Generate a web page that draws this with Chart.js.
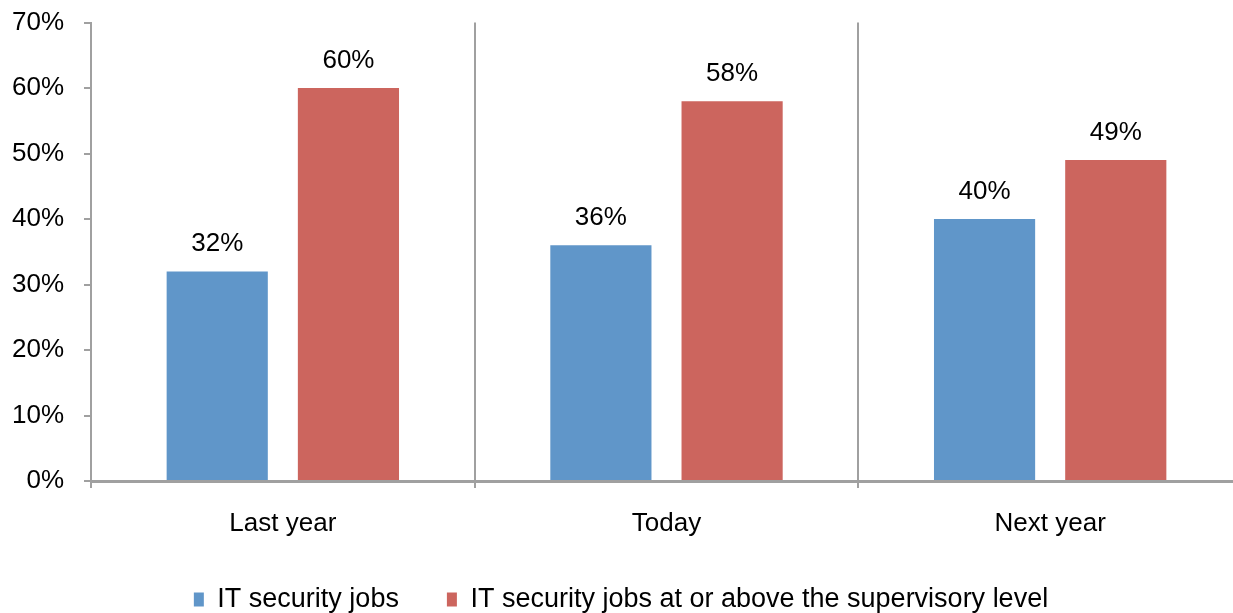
<!DOCTYPE html>
<html>
<head>
<meta charset="utf-8">
<script src="https://cdn.jsdelivr.net/npm/chart.js@4/dist/chart.umd.min.js"></script>
<style>
html,body{margin:0;padding:0;overflow:hidden;background:#fff;}
#wrap{width:1242px;height:613px;position:relative;}
</style>
</head>
<body>
<div id="wrap"><canvas id="c"></canvas></div>
<script>
const categories = ["Last year", "Today", "Next year"];
const itSecurityJobs = [32, 36, 40];
const supervisoryJobs = [60, 58, 49];
const seriesNames = ["IT security jobs", "IT security jobs at or above the supervisory level"];
const yTicks = [0, 10, 20, 30, 40, 50, 60, 70];

const FONT = "'Liberation Sans', Arial, sans-serif";
const GRID = "#a0a0a0";

const labelPlugin = {
  id: 'barLabels',
  afterDatasetsDraw(chart) {
    const ctx = chart.ctx;
    ctx.save();
    ctx.font = "26px " + FONT;
    ctx.fillStyle = "#000";
    ctx.textAlign = "center";
    ctx.textBaseline = "alphabetic";
    chart.data.datasets.forEach((ds, di) => {
      const meta = chart.getDatasetMeta(di);
      meta.data.forEach((bar, i) => {
        ctx.fillText(ds.data[i] + "%", bar.x, bar.y - 20);
      });
    });
    ctx.restore();
  }
};

new Chart(document.getElementById('c'), {
  type: 'bar',
  data: {
    labels: categories,
    datasets: [
      { label: seriesNames[0], data: itSecurityJobs, backgroundColor: "#6096c9",
        categoryPercentage: 0.684, barPercentage: 0.771 },
      { label: seriesNames[1], data: supervisoryJobs, backgroundColor: "#cc655e",
        categoryPercentage: 0.684, barPercentage: 0.771 }
    ]
  },
  options: {
    responsive: true,
    maintainAspectRatio: false,
    animation: false,
    layout: { padding: { top: 0, right: 0, left: 0, bottom: -10 } },
    plugins: {
      tooltip: { enabled: false },
      legend: {
        position: 'bottom',
        labels: {
          font: { family: FONT, size: 27 },
          color: "#000",
          boxWidth: 10,
          boxHeight: 14,
          padding: 48
        }
      }
    },
    scales: {
      x: {
        afterFit(scale) { scale.height = 57; },
        grid: { display: true, offset: true, color: GRID, lineWidth: 2, tickLength: 7, drawOnChartArea: true },
        border: { display: true, color: GRID, width: 3 },
        ticks: { font: { family: FONT, size: 26 }, color: "#000", padding: 20 }
      },
      y: {
        min: 0, max: 70,
        afterBuildTicks(scale) { scale.ticks = yTicks.map(v => ({ value: v })); },
        afterFit(scale) { scale.width = 91; },
        grid: { drawOnChartArea: false, color: GRID, lineWidth: 2, tickLength: 7 },
        border: { display: true, color: GRID, width: 2 },
        ticks: { font: { family: FONT, size: 26, lineHeight: 0.2 }, color: "#000", padding: 20,
          callback: v => v + "%" }
      }
    }
  },
  plugins: [labelPlugin]
});
</script>
</body>
</html>
